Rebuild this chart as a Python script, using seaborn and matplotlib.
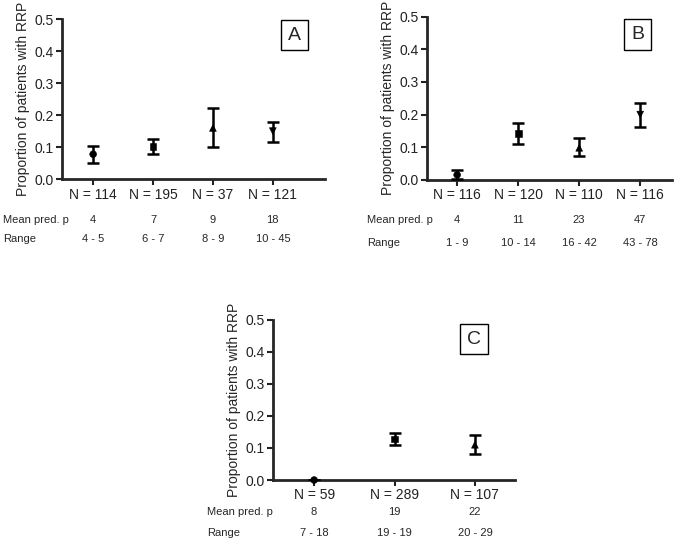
import matplotlib
matplotlib.use("Agg")
import matplotlib.pyplot as plt
import seaborn as sns
import pandas as pd

# panel A
a_n = ["N = 114", "N = 195", "N = 37", "N = 121"]
a_mean = ["4", "7", "9", "18"]
a_range = ["4 - 5", "6 - 7", "8 - 9", "10 - 45"]
a_prop = [0.078, 0.102, 0.160, 0.150]
a_lo = [0.052, 0.080, 0.100, 0.116]
a_hi = [0.104, 0.124, 0.222, 0.180]

# panel B
b_n = ["N = 116", "N = 120", "N = 110", "N = 116"]
b_mean = ["4", "11", "23", "47"]
b_range = ["1 - 9", "10 - 14", "16 - 42", "43 - 78"]
b_prop = [0.015, 0.142, 0.098, 0.200]
b_lo = [0.002, 0.110, 0.072, 0.162]
b_hi = [0.030, 0.173, 0.128, 0.235]

# panel C
c_n = ["N = 59", "N = 289", "N = 107"]
c_mean = ["8", "19", "22"]
c_range = ["7 - 18", "19 - 19", "20 - 29"]
c_prop = [0.0, 0.128, 0.110]
c_lo = [0.0, 0.110, 0.080]
c_hi = [0.0, 0.148, 0.142]

markers = ["o", "s", "^", "v"]

sns.set_style("ticks")
plt.rcParams["font.family"] = ["Liberation Sans", "DejaVu Sans"]

fig = plt.figure(figsize=(6.76, 5.43), dpi=100)


def panel(rect, letter, n, mean, rng, prop, lo, hi, xlim, box, rows_y, label_x):
    ax = fig.add_axes(rect)
    x = list(range(len(prop)))
    df = pd.DataFrame({"x": x, "y": prop, "m": markers[:len(prop)]})
    err = [[p - l for p, l in zip(prop, lo)], [h - p for p, h in zip(prop, hi)]]
    ax.errorbar(x, prop, yerr=err, fmt="none", ecolor="black", elinewidth=1.8,
                capsize=4, capthick=1.8, zorder=3)
    sns.scatterplot(data=df, x="x", y="y", style="m", markers={m: m for m in markers},
                    color="black", s=24, edgecolor="black", legend=False, ax=ax,
                    zorder=4, clip_on=False)
    ax.set_xlim(*xlim)
    ax.set_ylim(0, 0.5)
    ax.set_yticks([0, 0.1, 0.2, 0.3, 0.4, 0.5])
    ax.set_yticklabels(["0.0", "0.1", "0.2", "0.3", "0.4", "0.5"])
    ax.set_xticks(x)
    ax.set_xticklabels(n)
    ax.set_xlabel("")
    ax.set_ylabel("Proportion of patients with RRP", fontsize=10, labelpad=3)
    ax.tick_params(axis="both", labelsize=10, width=1.5, length=4, pad=2, colors="#222222")
    sns.despine(ax=ax)
    for s in ["left", "bottom"]:
        ax.spines[s].set_linewidth(2)
    tr = ax.get_xaxis_transform()
    for i in x:
        ax.text(i, rows_y[0], mean[i], transform=tr, ha="center", va="center", fontsize=8)
        ax.text(i, rows_y[1], rng[i], transform=tr, ha="center", va="center", fontsize=8)
    fig.text(label_x, ax.get_position().y0 + rows_y[0] * ax.get_position().height,
             "Mean pred. p", ha="left", va="center", fontsize=8)
    fig.text(label_x, ax.get_position().y0 + rows_y[1] * ax.get_position().height,
             "Range", ha="left", va="center", fontsize=8)
    ax.text(box[0], box[1], letter, transform=ax.transAxes, ha="center", va="center",
            fontsize=14, bbox=dict(boxstyle="square,pad=0.35", fc="white", ec="black", lw=1))
    return ax


panel([0.0917, 0.670, 0.389, 0.295], "A", a_n, a_mean, a_range, a_prop, a_lo, a_hi,
      (-0.52, 3.87), (0.885, 0.90), (-0.256, -0.375), 0.005)
panel([0.632, 0.669, 0.362, 0.300], "B", b_n, b_mean, b_range, b_prop, b_lo, b_hi,
      (-0.49, 3.52), (0.86, 0.89), (-0.245, -0.387), 0.543)
panel([0.404, 0.116, 0.358, 0.295], "C", c_n, c_mean, c_range, c_prop, c_lo, c_hi,
      (-0.51, 2.5), (0.83, 0.88), (-0.20, -0.33), 0.306)

fig.savefig("out.png", dpi=100)
